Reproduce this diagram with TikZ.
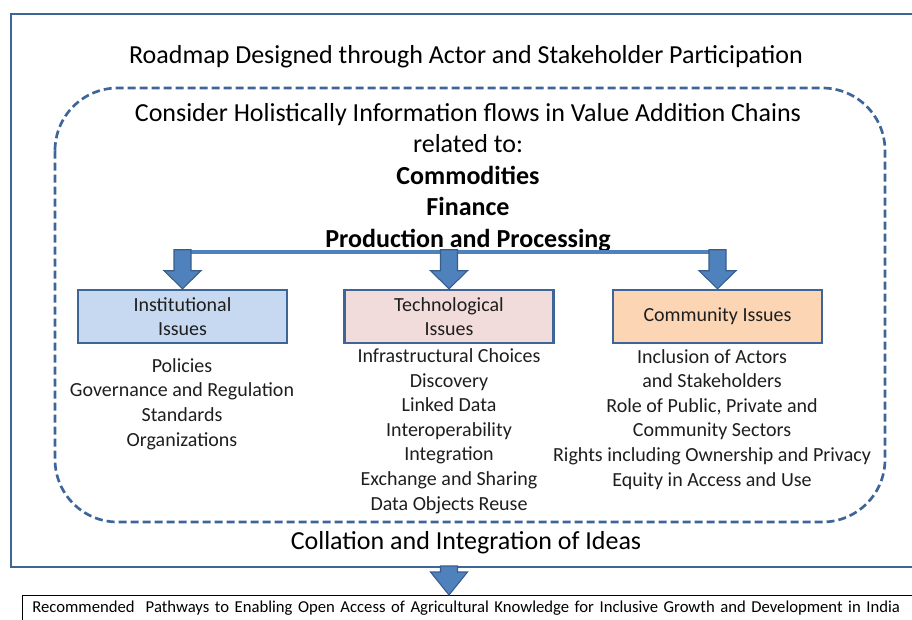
\documentclass[tikz,border=0pt]{standalone}
\usepackage{fontspec}
\setmainfont{Carlito}
\usetikzlibrary{positioning,calc}

\definecolor{frameblue}{RGB}{62,101,152}
\definecolor{arrowblue}{RGB}{79,129,189}
\definecolor{arrowedge}{RGB}{56,93,138}
\definecolor{instfill}{RGB}{198,217,241}
\definecolor{techfill}{RGB}{242,220,219}
\definecolor{commfill}{RGB}{252,213,181}
\definecolor{textgray}{RGB}{30,30,30}

\tikzset{
  issuebox/.style={draw=frameblue, line width=1.9pt, minimum width=156.75pt, minimum height=39.75pt,
    align=center, text=textgray, font=\fontsize{15}{18.3}\selectfont, inner sep=0pt},
  issuelist/.style={align=center, text=textgray, font=\fontsize{15}{18.4}\selectfont, anchor=base},
  bigtext/.style={align=center, font=\fontsize{19.5}{23.6}\selectfont},
  hubline/.style={line width=2.8pt, draw=arrowblue},
  pics/blockdown/.style args={#1 and #2}{code={
    \filldraw[fill=arrowblue, draw=arrowedge, line width=0.8pt]
      (0,0) -- (-18.5,#2) -- (-8.5,#2) -- (-8.5,#1) -- (8.5,#1) -- (8.5,#2) -- (18.5,#2) -- cycle;
  }}
}

\begin{document}
\begin{tikzpicture}[x=0.75pt,y=0.75pt,yscale=-1,xscale=1]
  \useasboundingbox (0,0) rectangle (912,619);
  \clip (0,0) rectangle (912,619);

  %Shape: Rectangle [outer frame]
  \draw[frameblue, line width=2.2pt] (11,14) rectangle (930,567);
  %Shape: Rounded Rectangle [dashed frame]
  \draw[frameblue, line width=2pt, dash pattern=on 6pt off 3pt, rounded corners=47pt] (55,88) rectangle (885,522);

  % Text Node
  \node[bigtext] (roadmap) at (466,57) {Roadmap Designed through Actor and Stakeholder Participation};
  \node[bigtext, anchor=base] (consider) at (468,247) {Consider Holistically Information flows in Value Addition Chains\\
    related to:\\ \textbf{Commodities}\\ \textbf{Finance}\\ \textbf{Production and Processing}};

  % Issue boxes
  \node[issuebox, fill=instfill] (inst) at (182.5,316.5) {Institutional\\Issues};
  \node[issuebox, fill=techfill] (tech) at (449,316.5) {Technological\\Issues};
  \node[issuebox, fill=commfill] (comm) at (717.5,316.5) {Community Issues};

  %Straight Lines [hub]
  \coordinate (hub) at (449,252);
  \draw[hubline] (hub -| inst.north) -- (hub -| comm.north);
  \pic at (inst.north) {blockdown=39 and 18};
  \pic at (tech.north) {blockdown=39 and 18};
  \pic at (comm.north) {blockdown=39 and 18};

  % Lists under the boxes
  \node[issuelist] (instlist) at (182,446) {Policies\\Governance and Regulation\\Standards\\Organizations};
  \node[issuelist] (techlist) at (449,510) {Infrastructural Choices\\Discovery\\Linked Data\\Interoperability\\Integration\\Exchange and Sharing\\Data Objects Reuse};
  \node[issuelist] (commlist) at (712,486) {Inclusion of Actors\\and Stakeholders\\Role of Public, Private and\\Community Sectors\\Rights including Ownership and Privacy\\Equity in Access and Use};

  % Text Node
  \node[bigtext] (collation) at (466,543) {Collation and Integration of Ideas};

  % Bottom box
  \node[draw, line width=0.6pt, anchor=north west, text width=660pt, align=left, inner xsep=7.5pt, inner ysep=4pt,
    font=\fontsize{12.5}{14}\selectfont, minimum height=30pt, text depth=20pt] (pathways) at (22,595)
    {Recommended~~Pathways to Enabling Open Access of Agricultural Knowledge for Inclusive Growth and Development in India};
  \pic at (pathways.north -| tech.north) {blockdown=29 and 23};
\end{tikzpicture}
\end{document}
